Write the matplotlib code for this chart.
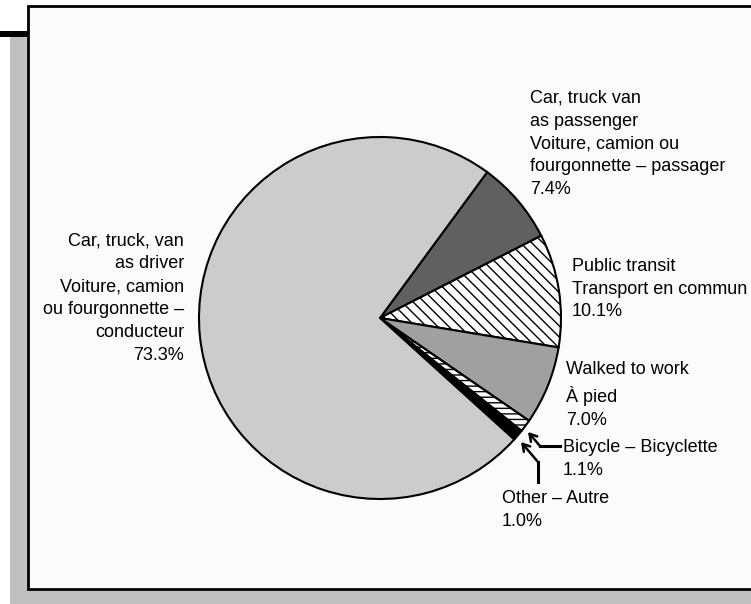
import matplotlib.pyplot as plt
from matplotlib.patches import Rectangle

# data
labels = ['Car, truck van\nas passenger\nVoiture, camion ou\nfourgonnette \u2013 passager\n7.4%',
          'Public transit\nTransport en commun\n10.1%',
          'Walked to work\n\u00c0 pied\n7.0%',
          'Bicycle \u2013 Bicyclette\n1.1%',
          'Other \u2013 Autre\n1.0%',
          'Car, truck, van\nas driver\nVoiture, camion\nou fourgonnette \u2013\nconducteur\n73.3%']
shares = [7.4, 10.1, 7.0, 1.1, 1.0, 73.3]
colors = ['#606060', 'white', '#a0a0a0', 'white', 'black', '#cccccc']
hatches = [None, '\\\\\\', None, '---', None, None]

W, H = 751, 604

def py(y):
    # pixel row (top down) -> data y
    return H - y

plt.rcParams['font.family'] = ['Liberation Sans', 'DejaVu Sans']
plt.rcParams['hatch.linewidth'] = 1.0

fig = plt.figure(figsize=(7.51, 6.04), dpi=100)
ax = fig.add_axes([0, 0, 1, 1])

# shadow, box and the little black bar
ax.add_patch(Rectangle((10, py(604)), W, 604 - 37, facecolor='#c0c0c0', edgecolor='none', zorder=0))
ax.add_patch(Rectangle((28, py(589)), W, 589 - 6, facecolor='#fbfbfb', edgecolor='black', linewidth=2, zorder=1))
ax.add_patch(Rectangle((0, py(37)), 28, 6, facecolor='black', edgecolor='none', zorder=1))

wedges, _ = ax.pie(shares, colors=colors, startangle=53.7, counterclock=False,
                   center=(380, py(318)), radius=181,
                   wedgeprops=dict(edgecolor='black', linewidth=1.5))
for w, h in zip(wedges, hatches):
    w.set_zorder(2)
    if h:
        w.set_hatch(h)

fs = 13
ls = 1.46
ax.text(184, py(298), labels[5], ha='right', va='center', fontsize=fs, linespacing=ls, multialignment='right')
ax.text(530, py(144), labels[0], ha='left', va='center', fontsize=fs, linespacing=ls)
ax.text(572, py(289), labels[1], ha='left', va='center', fontsize=fs, linespacing=ls)
ax.text(566, py(395), labels[2], ha='left', va='center', fontsize=fs, linespacing=ls)
ax.text(563, py(459), labels[3], ha='left', va='center', fontsize=fs, linespacing=ls)
ax.text(502, py(510), labels[4], ha='left', va='center', fontsize=fs, linespacing=ls)

# leader arrows for the two small slices
ax.plot([560, 540], [py(446), py(446)], color='black', lw=2.2, zorder=3)
ax.annotate('', xy=(528, py(432)), xytext=(540, py(446)),
            arrowprops=dict(arrowstyle='->,head_length=0.5,head_width=0.3', color='black',
                            lw=1.8, shrinkA=0, shrinkB=0))
ax.plot([538, 538], [py(482), py(462)], color='black', lw=2.2, zorder=3)
ax.annotate('', xy=(521, py(442)), xytext=(538, py(462)),
            arrowprops=dict(arrowstyle='->,head_length=0.5,head_width=0.3', color='black',
                            lw=1.8, shrinkA=0, shrinkB=0))

ax.set_xlim(0, W)
ax.set_ylim(0, H)
ax.set_aspect('equal')
ax.axis('off')

fig.savefig('out.png', dpi=100)
